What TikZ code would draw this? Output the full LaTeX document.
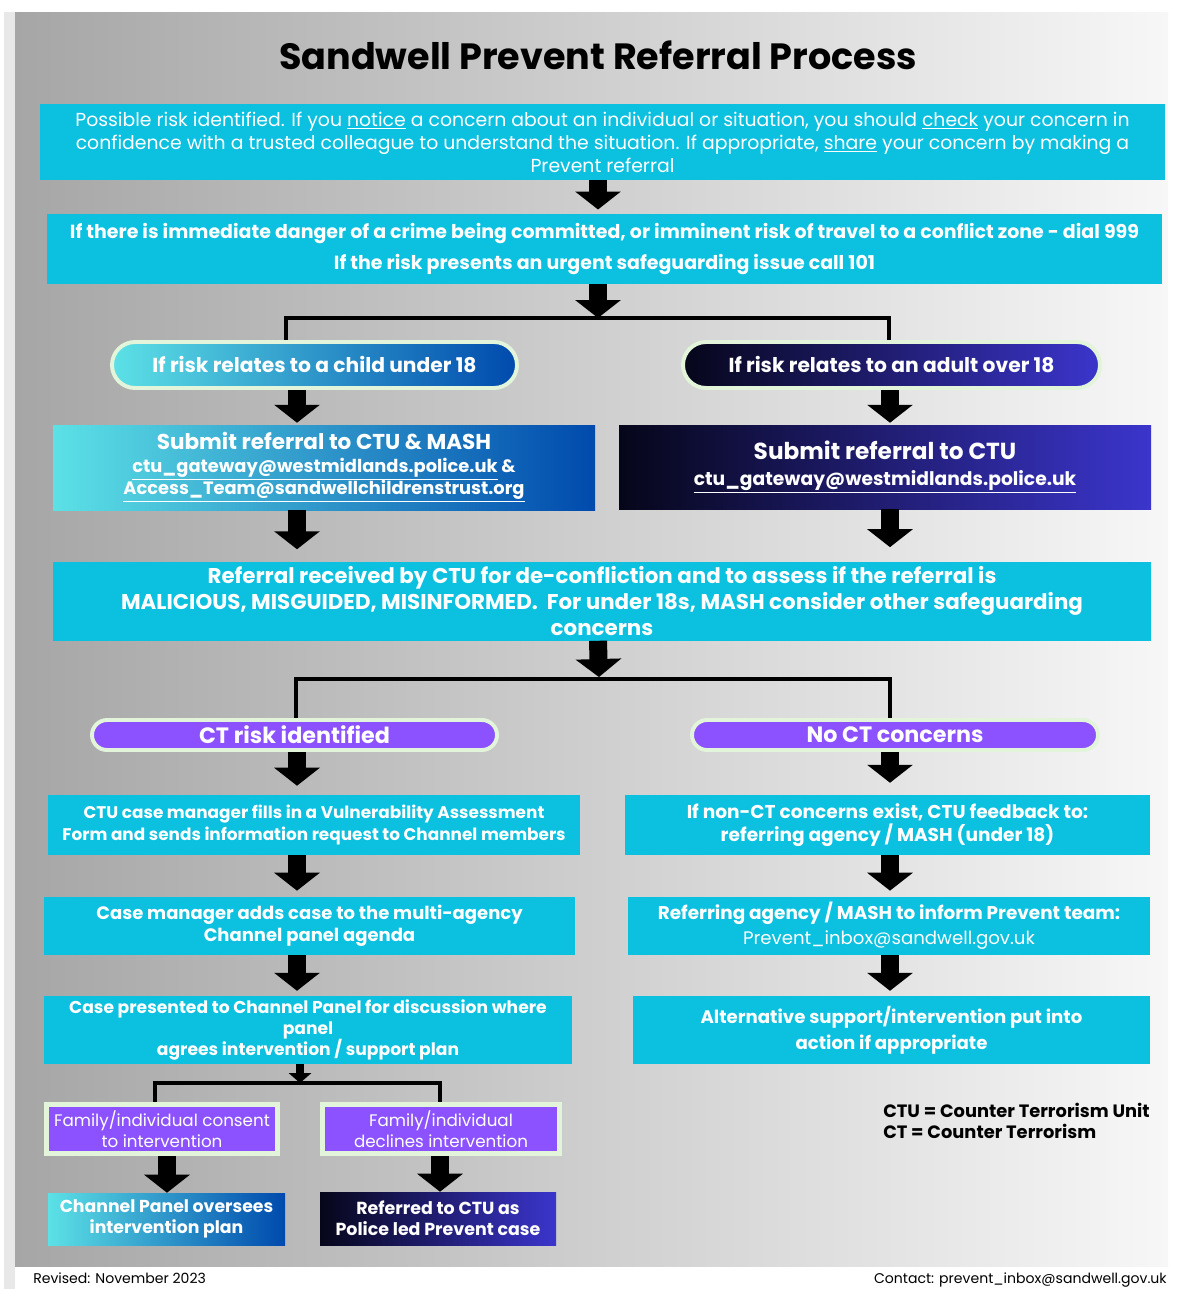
\documentclass[tikz,border=0pt]{standalone}
\usepackage{fontspec}
\setmainfont{Poppins}
\usepackage{tikz}
\usetikzlibrary{calc,arrows.meta}
\definecolor{boxcyan}{HTML}{0CC0DF}
\definecolor{ctpurple}{HTML}{8C52FF}
\definecolor{palegreen}{HTML}{E2F4DA}
\definecolor{kidlight}{HTML}{5CE1E6}
\definecolor{kiddark}{HTML}{004AAD}
\definecolor{adultdark}{HTML}{06061A}
\definecolor{adultblue}{HTML}{3B35CC}
\definecolor{bgleft}{HTML}{A6A6A6}
\definecolor{bgright}{HTML}{F7F7F7}
\definecolor{stripgray}{HTML}{E8E8E8}
\newcommand{\pxu}{0.025cm}
\newcommand{\fsz}[2]{\fontsize{#1}{#2}\selectfont}
\tikzset{
  flowbox/.style={fill=boxcyan, text=white, inner sep=0pt, align=center},
  kidshade/.style={left color=kidlight, right color=kiddark, text=white, inner sep=0pt, align=center},
  adultshade/.style={left color=adultdark, right color=adultblue, text=white, inner sep=0pt, align=center},
  purplebox/.style={fill=ctpurple, text=white, inner sep=0pt, align=center},
  pill/.style={rounded corners=#1, draw=palegreen, line width=2.8pt},
  framed/.style={draw=palegreen, line width=3.5pt},
  blockarrow/.style={line width=12.8pt, -{Triangle[width=31.9pt,length=12.8pt]}, shorten >=3pt},
  smallarrow/.style={line width=5.7pt, -{Triangle[width=15.6pt,length=7pt]}},
  branch/.style={line width=2.8pt},
  keytext/.style={font=\bfseries\fsz{12.7}{15}, align=left, inner sep=0pt}
}
\begin{document}
\begin{tikzpicture}[x=0.025cm,y=-0.025cm]
  \useasboundingbox (0,0) rectangle (1182,1289);
  \fill[white] (0,0) rectangle (1182,1289);
  \fill[stripgray] (4,12) rectangle (15,1289);
  \shade[left color=bgleft, right color=bgright] (15,12) rectangle (1168,1266);
  % columns for the arrows
  \coordinate (midcol) at (598,0);
  \coordinate (leftcol) at (297,0);
  \coordinate (rightcol) at (890,0);
  \coordinate (consentcol) at (167,0);
  \coordinate (declinecol) at (440,0);
  \coordinate (splitA) at (598,318);
  \coordinate (splitAl) at (286,318);
  \coordinate (splitAr) at (889,318);
  \coordinate (splitB) at (599,679);
  \coordinate (splitBl) at (296,679);
  \coordinate (splitBr) at (890,679);
  \coordinate (splitC) at (300,1083);
  \coordinate (splitCl) at (155,1083);
  \coordinate (splitCr) at (440,1083);

  \node[font=\bfseries\fsz{26}{30}, inner sep=0pt] (title) at (598,55) {Sandwell Prevent Referral Process};

  \node[flowbox, minimum width=1125*\pxu, minimum height=76*\pxu, font=\fsz{13.4}{16.3}] (riskbox) at (602.5,142)
    {Possible risk identified. If you \underline{notice} a concern about an individual or situation, you should \underline{check} your concern in\\
     confidence with a trusted colleague to understand the situation. If appropriate, \underline{share} your concern by making a\\
     Prevent referral};
  \node[flowbox, minimum width=1115*\pxu, minimum height=70*\pxu, font=\bfseries\fsz{13.5}{22}] (dangerbox) at (604.5,249)
    {If there is immediate danger of a crime being committed, or imminent risk of travel to a conflict zone - dial 999\\
     If the risk presents an urgent safeguarding issue call 101};

  \node[kidshade, pill=0.575cm, minimum width=405*\pxu, minimum height=46*\pxu, font=\bfseries\fsz{14.4}{16}] (kidpill) at (314.5,365) {If risk relates to a child under 18};
  \node[adultshade, pill=0.575cm, minimum width=417*\pxu, minimum height=46*\pxu, font=\bfseries\fsz{14.4}{16}] (adultpill) at (891.5,365) {If risk relates to an adult over 18};

  \node[kidshade, minimum width=542*\pxu, minimum height=85*\pxu, font=\bfseries\fsz{12.7}{16}] (kidbox) at (324,467.5)
    {{\fsz{15.3}{16}Submit referral to CTU \& MASH}\\
     \underline{ctu\_gateway@westmidlands.police.uk} \&\\
     \underline{Access\_Team@sandwellchildrenstrust.org}};
  \node[adultshade, minimum width=532*\pxu, minimum height=84*\pxu, font=\bfseries\fsz{13.3}{18.4}] (adultbox) at (885,467)
    {{\fsz{16.5}{18}Submit referral to CTU}\\
     \underline{ctu\_gateway@westmidlands.police.uk}};

  \node[flowbox, minimum width=1098*\pxu, minimum height=79*\pxu, font=\bfseries\fsz{15.2}{18.2}] (assessbox) at (602,601)
    {Referral received by CTU for de-confliction and to assess if the referral is\\
     MALICIOUS, MISGUIDED, MISINFORMED.\ \ For under 18s, MASH consider other safeguarding\\
     concerns};

  \node[purplebox, pill=0.375cm, minimum width=405*\pxu, minimum height=30*\pxu, font=\bfseries\fsz{15.8}{17}] (ctpill) at (294.5,735) {CT risk identified};
  \node[purplebox, pill=0.375cm, minimum width=406*\pxu, minimum height=30*\pxu, font=\bfseries\fsz{15.8}{17}] (noctpill) at (895,735) {No CT concerns};

  \node[flowbox, minimum width=532*\pxu, minimum height=60*\pxu, font=\bfseries\fsz{12}{15}] (vabox) at (314,825)
    {CTU case manager fills in a Vulnerability Assessment\\
     Form and sends information request to Channel members};
  \node[flowbox, minimum width=525*\pxu, minimum height=60*\pxu, font=\bfseries\fsz{13.2}{16}] (nonctbox) at (887.5,825)
    {If non-CT concerns exist, CTU feedback to:\\
     referring agency / MASH (under 18)};

  \node[flowbox, minimum width=531*\pxu, minimum height=58*\pxu, font=\bfseries\fsz{12.8}{15.6}] (agendabox) at (309.5,926)
    {Case manager adds case to the multi-agency\\
     Channel panel agenda};
  \node[flowbox, minimum width=522*\pxu, minimum height=58*\pxu, font=\bfseries\fsz{13.1}{17.7}] (informbox) at (889,926)
    {Referring agency / MASH to inform Prevent team:\\
     {\mdseries\fsz{12.9}{17.7}Prevent\_inbox@sandwell.gov.uk}};

  \node[flowbox, minimum width=528*\pxu, minimum height=68*\pxu, font=\bfseries\fsz{12.2}{15}] (panelbox) at (308,1030)
    {Case presented to Channel Panel for discussion where\\
     panel\\
     agrees intervention / support plan};
  \node[flowbox, minimum width=517*\pxu, minimum height=68*\pxu, font=\bfseries\fsz{12.9}{18.4}] (altbox) at (891.5,1030)
    {Alternative support/intervention put into\\
     action if appropriate};

  \node[purplebox, framed, minimum width=231*\pxu, minimum height=49*\pxu, font=\fsz{11.9}{15}] (consentbox) at (162,1129)
    {Family/individual consent\\ to intervention};
  \node[purplebox, framed, minimum width=237*\pxu, minimum height=49*\pxu, font=\fsz{11.9}{15}] (declinebox) at (441,1129)
    {Family/individual\\ declines intervention};

  \node[kidshade, minimum width=237*\pxu, minimum height=52*\pxu, font=\bfseries\fsz{12.3}{15}] (channelbox) at (166.5,1219)
    {Channel Panel oversees\\ intervention plan};
  \node[adultshade, minimum width=236*\pxu, minimum height=53*\pxu, font=\bfseries\fsz{12.4}{15}] (referredbox) at (438,1218.5)
    {Referred to CTU as\\ Police led Prevent case};

  \node[keytext, anchor=north west] (keynote) at (883,1103)
    {CTU = Counter Terrorism Unit\\ CT = Counter Terrorism};

  \node[font=\fsz{10}{11}, anchor=base west, inner sep=0pt] (revised) at (33,1283.5) {Revised: November 2023};
  \node[font=\fsz{10}{11}, anchor=base east, inner sep=0pt] (contact) at (1167,1283.5) {Contact: prevent\_inbox@sandwell.gov.uk};

  % arrows down the middle
  \draw[blockarrow] (midcol |- riskbox.south) -- (midcol |- dangerbox.north);
  \draw[blockarrow, shorten >=0pt] (midcol |- dangerbox.south) -- (splitA);
  \draw[branch] (splitAl |- kidpill.north) -- (splitAl) -- (splitAr) -- (splitAr |- adultpill.north);
  \draw[blockarrow, shorten >=1.4pt] (leftcol |- kidpill.south) -- (leftcol |- kidbox.north);
  \draw[blockarrow, shorten >=1.4pt] (rightcol |- adultpill.south) -- (rightcol |- adultbox.north);
  \draw[blockarrow, shorten >=8.5pt] (leftcol |- kidbox.south) -- (leftcol |- assessbox.north);
  \draw[blockarrow, shorten >=10pt] (rightcol |- adultbox.south) -- (rightcol |- assessbox.north);
  \draw[blockarrow, shorten >=1.4pt] (midcol |- assessbox.south) -- (splitB);
  \draw[branch] (splitBl |- ctpill.north) -- (splitBl) -- (splitBr) -- (splitBr |- noctpill.north);
  % two columns
  \draw[blockarrow, shorten >=6.4pt] (leftcol |- ctpill.south) -- (leftcol |- vabox.north);
  \draw[blockarrow, shorten >=8.5pt] (rightcol |- noctpill.south) -- (rightcol |- nonctbox.north);
  \draw[blockarrow, shorten >=4.3pt] (leftcol |- vabox.south) -- (leftcol |- agendabox.north);
  \draw[blockarrow, shorten >=4.3pt] (rightcol |- nonctbox.south) -- (rightcol |- informbox.north);
  \draw[blockarrow, shorten >=3.5pt] (leftcol |- agendabox.south) -- (leftcol |- panelbox.north);
  \draw[blockarrow, shorten >=3.5pt] (rightcol |- informbox.south) -- (rightcol |- altbox.north);
  \draw[smallarrow] (splitC |- panelbox.south) -- (splitC);
  \draw[branch] (splitCl |- consentbox.north) -- (splitCl) -- (splitCr) -- (splitCr |- declinebox.north);
  \draw[blockarrow, shorten >=0pt] (consentcol |- consentbox.south) -- (consentcol |- channelbox.north);
  \draw[blockarrow, shorten >=0pt] (declinecol |- declinebox.south) -- (declinecol |- referredbox.north);
\end{tikzpicture}
\end{document}
